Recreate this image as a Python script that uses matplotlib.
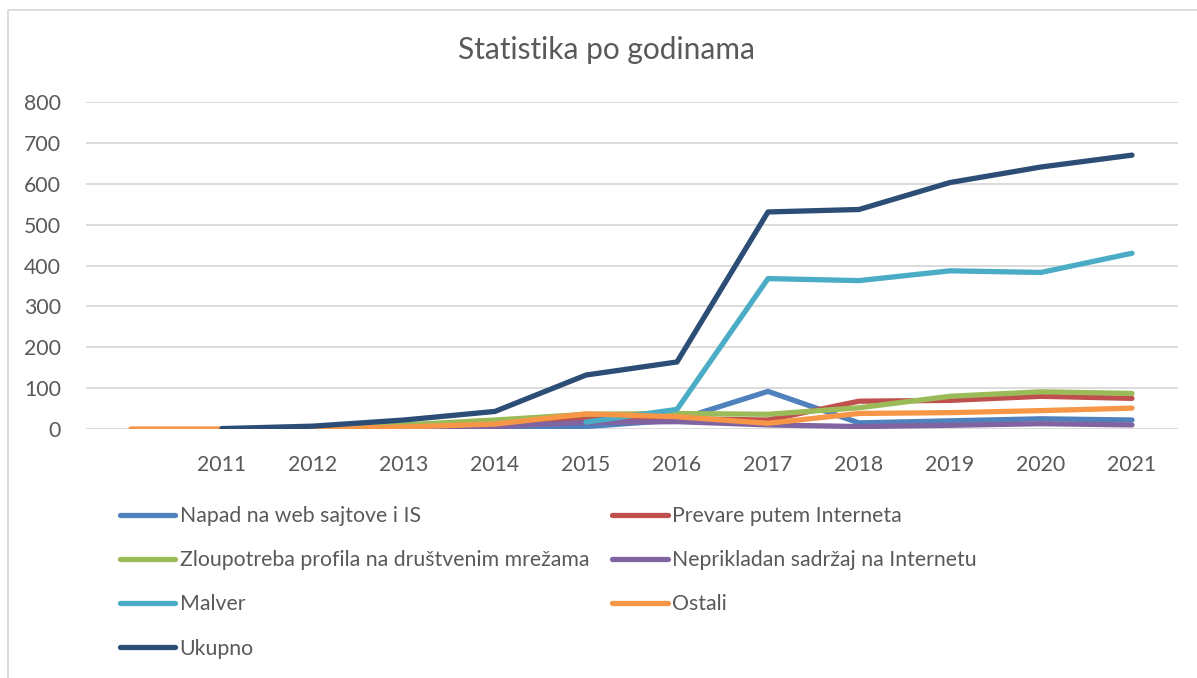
import numpy as np
import matplotlib
matplotlib.use('Agg')
import matplotlib.pyplot as plt
from matplotlib.lines import Line2D

plt.rcParams['font.family'] = ['Lato', 'DejaVu Sans']

# categories (first one is an empty slot, as in the source chart)
years = ['', '2011', '2012', '2013', '2014', '2015', '2016',
         '2017', '2018', '2019', '2020', '2021']
nan = np.nan

napad = [nan, 0, 0, 1, 2, 6, 22, 92, 15, 20, 25, 22]
prevare = [nan, 0, 1, 4, 8, 25, 25, 22, 68, 70, 80, 75]
zloupotreba = [nan, 0, 2, 10, 22, 36, 38, 36, 52, 80, 91, 87]
neprikladan = [nan, 0, 0, 1, 6, 16, 18, 10, 6, 9, 13, 10]
malver = [nan, nan, nan, nan, nan, 17, 48, 368, 363, 387, 383, 430]
ostali = [0, 0, 0, 5, 12, 37, 30, 14, 38, 40, 45, 51]
ukupno = [nan, 1, 7, 22, 43, 132, 164, 531, 537, 603, 641, 670]

series = [
    ('Napad na web sajtove i IS', napad, '#4F81BD'),
    ('Prevare putem Interneta', prevare, '#C0504D'),
    ('Zloupotreba profila na društvenim mrežama', zloupotreba, '#9BBB59'),
    ('Neprikladan sadržaj na Internetu', neprikladan, '#8064A2'),
    ('Malver', malver, '#4BACC6'),
    ('Ostali', ostali, '#F79646'),
    ('Ukupno', ukupno, '#2C4D75'),
]

text_color = '#595959'
W, H = 1197, 678

fig = plt.figure(figsize=(11.97, 6.78), dpi=100)
# chart frame (only top and left edges are inside the image)
fig.lines.append(Line2D([8 / W, 8 / W, 1], [0, 1 - 10 / H, 1 - 10 / H],
                        transform=fig.transFigure, color='#D9D9D9',
                        linewidth=1.3))

ax = fig.add_axes([85.5 / W, 1 - 429 / H, 1092 / W, 327 / H])
x = np.arange(len(years))

handles = {}
for name, vals, color in series:
    line, = ax.plot(x, vals, color=color, linewidth=3.8,
                    solid_capstyle='round', solid_joinstyle='round',
                    label=name)
    handles[name] = line

ax.set_xlim(-0.5, len(years) - 0.5)
ax.set_ylim(0, 800)
ax.set_yticks(np.arange(0, 801, 100))
ax.set_xticks(x)
ax.set_xticklabels(years)
ax.grid(axis='y', color='#D9D9D9', linewidth=1.3)
ax.set_axisbelow(True)
for s in ax.spines.values():
    s.set_visible(False)
ax.tick_params(axis='both', length=0, labelsize=15.3, labelcolor=text_color)
ax.tick_params(axis='y', pad=17.6)
ax.tick_params(axis='x', pad=18.5)

fig.text(0.507, 1 - 50 / H, 'Statistika po godinama', ha='center',
         va='center', fontsize=21.5, color=text_color)

# legend: Excel fills rows first, matplotlib fills columns
order = [0, 2, 4, 6, 1, 3, 5]
leg_handles = [handles[series[i][0]] for i in order]
leg_labels = [series[i][0] for i in order]
fig.legend(leg_handles, leg_labels, loc='upper left',
           bbox_to_anchor=(120 / W, 1 - 506 / H), ncol=2,
           frameon=False, fontsize=15.3, labelcolor=text_color,
           handlelength=2.6, handletextpad=0.2, columnspacing=1.1,
           labelspacing=1.14, borderaxespad=0, borderpad=0)

fig.savefig('out.png', dpi=100)
